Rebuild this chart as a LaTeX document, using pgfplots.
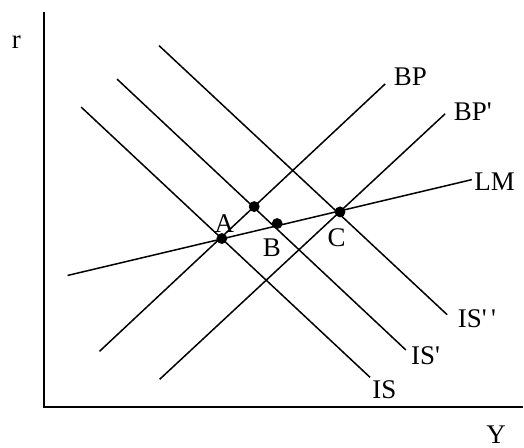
\documentclass[border=0pt]{standalone}
\usepackage{fontspec}
\setmainfont{Liberation Serif}
\usepackage{pgfplots}
\pgfplotsset{compat=1.18}
\tikzset{lab/.style={font=\fontsize{13.5pt}{16pt}\selectfont, inner sep=0pt, outer sep=0pt, anchor=base west}}
\begin{document}
\begin{tikzpicture}
\begin{axis}[
  width=262pt, height=224pt, scale only axis,
  xmin=0, xmax=524, ymin=0, ymax=448,
  hide axis, clip=false,
]
% frame of bounding box
\addplot[draw=none] coordinates {(0,0) (524,448)};
% axes
\addplot[black, line width=1pt] coordinates {(44,436) (44,40) (524,40)};
% IS curves
\addplot[black, line width=0.75pt] coordinates {(81.3,340.7) (370.7,70)};
\addplot[black, line width=0.75pt] coordinates {(117.3,368.7) (406.7,97.3)};
\addplot[black, line width=0.75pt] coordinates {(159.3,402.3) (448,132.7)};
% BP curves
\addplot[black, line width=0.75pt] coordinates {(99.7,96) (386,364)};
\addplot[black, line width=0.75pt] coordinates {(160,68) (446,334)};
% LM
\addplot[black, line width=0.75pt] coordinates {(67.7,172) (472.7,268)};
% equilibrium points
\addplot[only marks, mark=*, mark size=2.5pt, black] coordinates {(222.3,209) (254.7,241) (277.7,224) (340.7,235.7)};
% labels
\node[lab] at (axis cs:12,399) {r};
\node[lab] at (axis cs:487.3,4) {Y};
\node[lab] at (axis cs:394.7,362) {BP};
\node[lab] at (axis cs:454.7,327.3) {BP\textquotesingle};
\node[lab] at (axis cs:475.3,257.3) {LM};
\node[lab] at (axis cs:458.7,120) {IS\textquotesingle\,\textquotesingle};
\node[lab] at (axis cs:412,82.7) {IS\textquotesingle};
\node[lab] at (axis cs:373,48.3) {IS};
\node[lab] at (axis cs:215,215.2) {A};
\node[lab] at (axis cs:263.3,191.3) {B};
\node[lab] at (axis cs:328.3,201) {C};
\end{axis}
\end{tikzpicture}
\end{document}
